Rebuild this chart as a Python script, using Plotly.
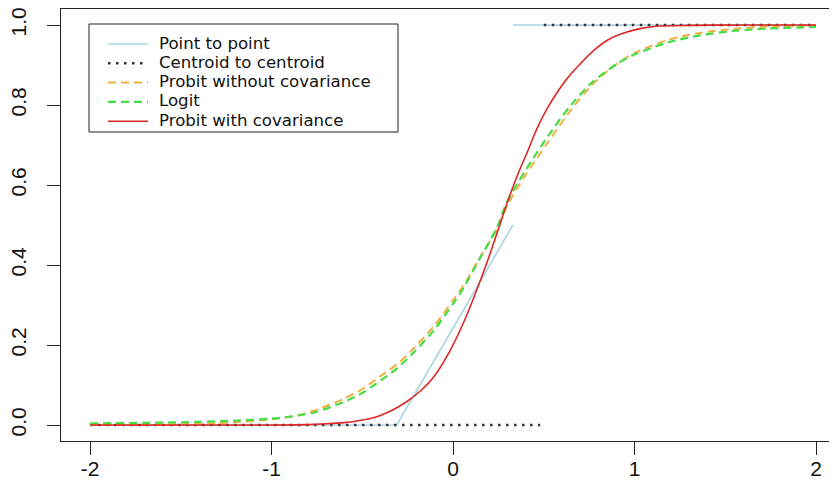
import plotly.graph_objects as go

# ---- data ----
p2p_x = [-2.0, -0.31, 0.33, None, 0.33, 2.0]
p2p_y = [0.0, 0.0, 0.5, None, 1.0, 1.0]

cen_x = [-2.0, 0.48, None, 0.5, 2.0]
cen_y = [0.0, 0.0, None, 1.0, 1.0]

probit_nocov_x = [-2.0, -1.6, -1.4, -1.2, -1.0, -0.85, -0.75, -0.6, -0.5, -0.4, -0.3, -0.22,
                  -0.1, 0.0, 0.05, 0.15, 0.24, 0.3, 0.4, 0.52, 0.65, 0.77, 0.9, 1.0, 1.18,
                  1.36, 1.54, 1.73, 2.0]
probit_nocov_y = [0.0, 0.001, 0.003, 0.007, 0.014, 0.025, 0.038, 0.066, 0.09, 0.122, 0.155, 0.19,
                  0.25, 0.312, 0.343, 0.42, 0.488, 0.55, 0.625, 0.705, 0.788, 0.852, 0.902, 0.93, 0.962,
                  0.98, 0.99, 0.996, 0.999]

logit_x = [-2.0, -1.6, -1.4, -1.2, -1.0, -0.85, -0.75, -0.6, -0.5, -0.4, -0.3, -0.22,
           -0.1, 0.0, 0.05, 0.15, 0.24, 0.3, 0.4, 0.52, 0.65, 0.77, 0.9, 1.0, 1.18,
           1.36, 1.54, 1.73, 2.0]
logit_y = [0.004, 0.006, 0.008, 0.011, 0.016, 0.024, 0.033, 0.058, 0.08, 0.111, 0.145, 0.18,
           0.24, 0.303, 0.337, 0.418, 0.492, 0.56, 0.637, 0.72, 0.8, 0.858, 0.902, 0.926, 0.956,
           0.974, 0.985, 0.991, 0.995]

probit_cov_x = [-2.0, -1.0, -0.8, -0.7, -0.6, -0.53, -0.45, -0.4, -0.33, -0.25, -0.18, -0.11,
                -0.02, 0.06, 0.12, 0.19, 0.25, 0.3, 0.36, 0.41, 0.45, 0.48, 0.52, 0.56, 0.61,
                0.66, 0.72, 0.79, 0.85, 0.92, 1.03, 1.12, 1.3, 1.6, 2.0]
probit_cov_y = [0.0, 0.0, 0.001, 0.003, 0.006, 0.01, 0.017, 0.024, 0.038, 0.06, 0.085, 0.118,
                0.183, 0.258, 0.325, 0.41, 0.49, 0.558, 0.63, 0.683, 0.728, 0.758, 0.792, 0.822, 0.855,
                0.883, 0.912, 0.942, 0.962, 0.977, 0.991, 0.997, 0.999, 1.0, 1.0]

x_ticks = [-2, -1, 0, 1, 2]
x_tick_labels = ["-2", "-1", "0", "1", "2"]
y_ticks = [0.0, 0.2, 0.4, 0.6, 0.8, 1.0]
y_tick_labels = ["0.0", "0.2", "0.4", "0.6", "0.8", "1.0"]

series_names = ["Point to point", "Centroid to centroid", "Probit without covariance",
                "Logit", "Probit with covariance"]

# ---- layout geometry (page has an 8px body margin) ----
OFF = 8
W, H = 837 - OFF, 494 - OFF
ML, MR, MT = 61 - OFF, 0, 9 - OFF
PW = W - ML - MR
PH = 432
MB = H - MT - PH

styles = [
    dict(color="#A9D3E2", width=1.6),
    dict(color="#333333", width=2.5, dash="2.5px,5.5px"),
    dict(color="#F0B040", width=2, dash="8px,5px"),
    dict(color="#44DD44", width=2.2, dash="8px,5px"),
    dict(color="#DD2626", width=1.6),
]
series = [(p2p_x, p2p_y, "linear"), (cen_x, cen_y, "linear"),
          (probit_nocov_x, probit_nocov_y, "spline"), (logit_x, logit_y, "spline"),
          (probit_cov_x, probit_cov_y, "spline")]

fig = go.Figure()
for (xs, ys, shp), nm, st in zip(series, series_names, styles):
    line = dict(st)
    if shp == "spline":
        line["smoothing"] = 0.8
    fig.add_trace(go.Scatter(x=xs, y=ys, mode="lines", name=nm, line_shape=shp,
                             line=line, showlegend=False))

# ---- legend box (R-style) drawn in paper coordinates; page pixel positions ----
def px_x(p):
    return (p - OFF - ML) / PW

def px_y(p):
    return (OFF + MT + PH - p) / PH

shapes = [dict(type="rect", xref="paper", yref="paper",
               x0=px_x(89), x1=px_x(398), y0=px_y(132), y1=px_y(24),
               line=dict(color="#222222", width=1), fillcolor="white", layer="above")]
annotations = []
for i, (nm, st) in enumerate(zip(series_names, styles)):
    cy = 44 + i * 19.3
    ln = dict(st)
    shapes.append(dict(type="line", xref="paper", yref="paper",
                       x0=px_x(108), x1=px_x(148), y0=px_y(cy), y1=px_y(cy),
                       line=ln, layer="above"))
    annotations.append(dict(xref="paper", yref="paper", x=px_x(157), y=px_y(cy - 1),
                            xanchor="left", yanchor="middle", text=nm, showarrow=False,
                            font=dict(family="DejaVu Sans, Verdana, sans-serif", size=16.6,
                                      color="#111111")))

fig.update_layout(
    width=W, height=H,
    margin=dict(l=ML, r=MR, t=MT, b=MB, autoexpand=False),
    paper_bgcolor="white", plot_bgcolor="white",
    font=dict(family="Liberation Sans, Arial, sans-serif", size=21, color="#111111"),
    showlegend=False,
    shapes=shapes, annotations=annotations,
)
fig.update_xaxes(range=[-2.16, 2.1155], tickvals=x_ticks, ticktext=x_tick_labels,
                 showgrid=False, zeroline=False, showline=True, linecolor="#222222",
                 linewidth=1, mirror=True, ticks="outside", ticklen=13, tickcolor="#222222",
                 tickwidth=1, automargin=False, ticklabelstandoff=-4,
                 ticklabeloverflow="allow")
fig.update_yaxes(range=[-0.04, 1.04], tickvals=y_ticks, ticktext=y_tick_labels,
                 showgrid=False, zeroline=False, showline=True, linecolor="#222222",
                 linewidth=1, mirror=False, ticks="outside", ticklen=13, tickcolor="#222222",
                 tickwidth=1, tickangle=-90, automargin=False, ticklabelstandoff=13,
                 ticklabeloverflow="allow")

fig.write_html("out.html")
